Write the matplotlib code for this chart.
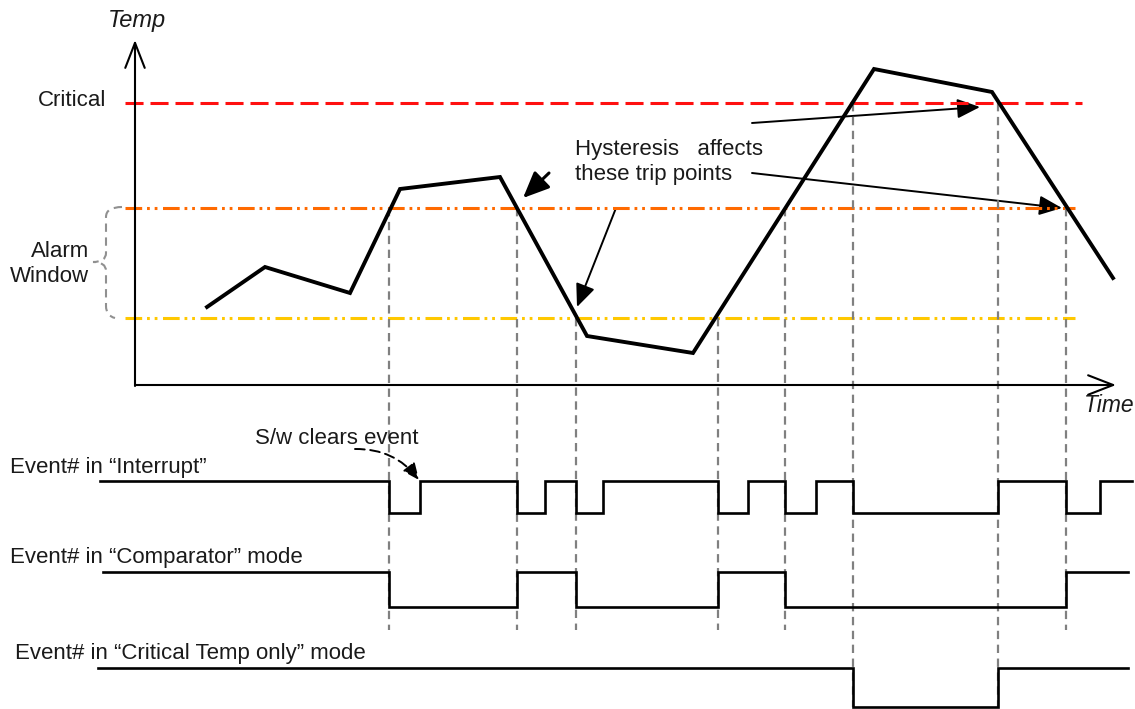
import numpy as np
import matplotlib
matplotlib.use('Agg')
import matplotlib.pyplot as plt
from matplotlib.patches import FancyArrowPatch, PathPatch
from matplotlib.path import Path

plt.rcParams['font.family'] = ['Liberation Sans', 'DejaVu Sans']
plt.rcParams['lines.scale_dashes'] = False

# temperature trace (time, temp), in drawing units
temp_t = [207, 265, 350, 400, 500, 587, 693, 874, 992, 1113]
temp_v = [307, 267, 293, 189, 177, 336, 353, 69, 92, 278]

critical = 103
alarm_high = 208
alarm_low = 318

# trip points where the trace crosses a threshold
trip_t = [389, 517, 576, 718, 785, 853, 998, 1066]
trip_v = [208, 208, 318, 318, 208, 103, 103, 208]

# event# waveforms: edge times and state after each edge (1 = high)
int_t = [100, 389, 420, 517, 545, 576, 603, 718, 748, 785, 816, 853, 998, 1066, 1100, 1132]
int_s = [1, 0, 1, 0, 1, 0, 1, 0, 1, 0, 1, 0, 1, 0, 1]
comp_t = [103, 389, 517, 576, 718, 785, 1066, 1128]
comp_s = [1, 0, 1, 0, 1, 0, 1]
crit_t = [98, 853, 998, 1128]
crit_s = [1, 0, 1]

TXT = '#1a1a1a'
FS = 16


def waveform(ax, times, states, hi, lo):
    ys = [hi if s else lo for s in states]
    ys = ys + [ys[-1]]
    ax.step(times, ys, where='post', color='black', lw=1.9,
            solid_joinstyle='miter')


def arrow(ax, start, end, lw=1.1, hl=0.7, hw=0.3):
    p = FancyArrowPatch(start, end, arrowstyle=f'-|>,head_length={hl},head_width={hw}',
                        mutation_scale=20, color='black', lw=lw,
                        shrinkA=0, shrinkB=0)
    ax.add_patch(p)


def main():
    fig = plt.figure(figsize=(11.35, 7.09), dpi=100)
    ax = fig.add_axes([0, 0, 1, 1])
    ax.set_xlim(0, 1135)
    ax.set_ylim(709, 0)
    ax.axis('off')

    # threshold lines
    ax.plot([125, 1082], [critical] * 2, color='#ff1010', lw=2.2,
            linestyle=(0, (13, 5)))
    dd = (0, (12, 3.5, 2, 3.5, 2, 4))
    ax.plot([125, 1075], [alarm_high] * 2, color='#ff6a00', lw=2.2, linestyle=dd)
    ax.plot([125, 1075], [alarm_low] * 2, color='#ffc800', lw=2.2, linestyle=dd)

    # trip point guides
    for t, v in zip(trip_t, trip_v):
        bottom = 707 if v == critical else 630
        ax.plot([t, t], [v, bottom], color='#808080', lw=1.6,
                linestyle=(0, (6, 4)))

    # axes with arrow heads
    ax.annotate('', xy=(135, 40), xytext=(135, 386),
                arrowprops=dict(arrowstyle='->,head_length=0.9,head_width=0.35',
                                mutation_scale=20, lw=1.5, color='black',
                                shrinkA=0, shrinkB=0))
    ax.annotate('', xy=(1116, 385), xytext=(135, 385),
                arrowprops=dict(arrowstyle='->,head_length=0.9,head_width=0.35',
                                mutation_scale=20, lw=1.5, color='black',
                                shrinkA=0, shrinkB=0))
    ax.text(137, 20, 'Temp', style='italic', fontsize=17, color=TXT,
            ha='center', va='center')
    ax.text(1084, 406, 'Time', style='italic', fontsize=16.5, color=TXT,
            ha='left', va='center')

    # temperature trace
    ax.plot(temp_t, temp_v, color='black', lw=2.8, solid_joinstyle='miter')

    # alarm window brace
    verts = [(122, 207), (106, 207), (106, 217), (106, 253), (106, 262),
             (93, 262), (106, 262), (106, 271), (106, 306), (106, 316), (115, 318)]
    codes = [Path.MOVETO, Path.CURVE3, Path.CURVE3, Path.LINETO, Path.CURVE3,
             Path.CURVE3, Path.CURVE3, Path.CURVE3, Path.LINETO, Path.CURVE3, Path.CURVE3]
    ax.add_patch(PathPatch(Path(verts, codes), fill=False, edgecolor='#909090',
                           lw=1.5, linestyle=(0, (6, 4))))

    ax.text(106, 101, 'Critical', fontsize=FS, color=TXT, ha='right', va='center')
    ax.text(89, 264, 'Alarm\nWindow', fontsize=FS, color=TXT, ha='right',
            va='center', multialignment='right', linespacing=1.3)
    ax.text(575, 162, 'Hysteresis   affects\nthese trip points', fontsize=FS,
            color=TXT, ha='left', va='center', linespacing=1.25)

    # hysteresis pointers
    arrow(ax, (549, 173), (523, 198), lw=2.2, hl=0.8, hw=0.35)
    arrow(ax, (616, 208), (577, 307), lw=1.4)
    arrow(ax, (752, 123), (980, 107), lw=1.4)
    arrow(ax, (752, 173), (1062, 208), lw=1.4)

    # event waveforms
    waveform(ax, int_t, int_s, 481, 513)
    waveform(ax, comp_t, comp_s, 572, 607)
    waveform(ax, crit_t, crit_s, 668, 707)

    ax.text(10, 467, 'Event# in \u201cInterrupt\u201d', fontsize=FS, color=TXT,
            ha='left', va='center')
    ax.text(10, 558, 'Event# in \u201cComparator\u201d mode', fontsize=FS, color=TXT,
            ha='left', va='center')
    ax.text(15, 653, 'Event# in \u201cCritical Temp only\u201d mode', fontsize=FS,
            color=TXT, ha='left', va='center')

    ax.text(255, 438, 'S/w clears event', fontsize=FS, color=TXT,
            ha='left', va='center')
    sw = FancyArrowPatch((355, 449), (419, 480),
                         arrowstyle='-|>,head_length=0.5,head_width=0.22',
                         mutation_scale=20, color='black', lw=1.4,
                         linestyle=(0, (7, 4)), connectionstyle='arc3,rad=-0.25',
                         shrinkA=0, shrinkB=0)
    ax.add_patch(sw)

    fig.savefig('out.png', dpi=100)


if __name__ == '__main__':
    main()
